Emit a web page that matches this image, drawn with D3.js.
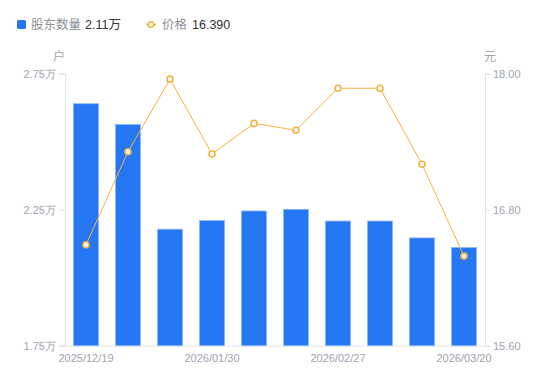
<!DOCTYPE html>
<html><head><meta charset="utf-8">
<script src="https://cdn.jsdelivr.net/npm/d3@7/dist/d3.min.js"></script>
<style>
html,body{margin:0;padding:0;background:#fff;}
svg{display:block;font-family:"Liberation Sans","Noto Sans CJK SC",sans-serif;}
</style></head>
<body>
<svg id="chart" width="550" height="381"></svg>
<script>
const dates = ["2025/12/19","2025/12/31","2026/01/16","2026/01/30","2026/02/10","2026/02/13","2026/02/27","2026/03/10","2026/03/13","2026/03/20"];
const holders = [2.639, 2.563, 2.178, 2.210, 2.245, 2.251, 2.208, 2.208, 2.146, 2.111]; // 万户
const prices = [16.49, 17.31, 17.95, 17.29, 17.56, 17.50, 17.87, 17.87, 17.20, 16.39];
const leftTicks = [1.75, 2.25, 2.75];
const rightTicks = [15.60, 16.80, 18.00];
const shownDates = ["2025/12/19","2026/01/30","2026/02/27","2026/03/20"];

const svg = d3.select("#chart");
const L = 65, R = 485, T = 73.5, B = 345.7;
const axisColor = "#e3e4e8", textColor = "#a0a3b1";

const x = d3.scaleBand().domain(dates).range([L, R]).paddingInner(0.4).paddingOuter(0.2);
const xc = d => x(d) + x.bandwidth()/2;
const yL = d3.scaleLinear().domain([1.75, 2.75]).range([B, T]);
const yR = d3.scaleLinear().domain([15.6, 18.0]).range([B, T]);

// axes
const leftAxis = svg.append("g").attr("transform", `translate(${L},0)`)
  .call(d3.axisLeft(yL).tickValues(leftTicks).tickSize(6).tickPadding(3).tickFormat(d => d3.format(".2f")(d) + "万"));
const rightAxis = svg.append("g").attr("transform", `translate(${R},0)`)
  .call(d3.axisRight(yR).tickValues(rightTicks).tickSize(5).tickPadding(3).tickFormat(d3.format(".2f")));
const bottomAxis = svg.append("g").attr("transform", `translate(0,${B})`)
  .call(d3.axisBottom(x).tickValues(shownDates).tickSize(0).tickPadding(9));
bottomAxis.select(".domain").attr("d", `M${L-5},0.5H${R}`);
[leftAxis, rightAxis, bottomAxis].forEach(g => {
  g.select(".domain").attr("stroke", axisColor);
  g.selectAll(".tick line").attr("stroke", axisColor);
  g.selectAll(".tick text").attr("fill", textColor).attr("font-size", 11);
});

// unit labels
svg.append("text").attr("x", 59).attr("y", 61).attr("text-anchor", "middle")
  .attr("fill", textColor).attr("font-size", 12).text("户");
svg.append("text").attr("x", 490).attr("y", 61).attr("text-anchor", "middle")
  .attr("fill", textColor).attr("font-size", 12).text("元");

// bars
svg.append("g").selectAll("rect").data(dates).join("rect")
  .attr("x", d => x(d)).attr("width", x.bandwidth())
  .attr("y", (d,i) => yL(holders[i])).attr("height", (d,i) => B - yL(holders[i]))
  .attr("fill", "#2677f3").attr("stroke", "#8fb9f8").attr("stroke-width", 0.8);

// line
const line = d3.line().x((d,i) => xc(dates[i])).y(d => yR(d));
svg.append("path").datum(prices).attr("d", line)
  .attr("fill", "none").attr("stroke", "#f7b33f").attr("stroke-width", 1);
svg.append("g").selectAll("circle").data(prices).join("circle")
  .attr("cx", (d,i) => xc(dates[i])).attr("cy", d => yR(d)).attr("r", 3)
  .attr("fill", "#fff").attr("stroke", "#f7b33f").attr("stroke-width", 1.6);

// legend
const lg = svg.append("g").attr("font-size", 12.5);
lg.append("rect").attr("x", 17).attr("y", 20).attr("width", 9).attr("height", 9).attr("rx", 1.5).attr("fill", "#2677f3");
lg.append("text").attr("x", 31).attr("y", 29).attr("fill", "#8c8f9c").text("股东数量");
lg.append("text").attr("x", 85).attr("y", 29).attr("fill", "#333").text("2.11万");
lg.append("line").attr("x1", 146).attr("x2", 156).attr("y1", 24.5).attr("y2", 24.5).attr("stroke", "#f7b33f").attr("stroke-width", 1.5);
lg.append("circle").attr("cx", 151).attr("cy", 24.5).attr("r", 2.8).attr("fill", "#fff").attr("stroke", "#f7b33f").attr("stroke-width", 1.6);
lg.append("text").attr("x", 162).attr("y", 29).attr("fill", "#8c8f9c").text("价格");
lg.append("text").attr("x", 192).attr("y", 29).attr("fill", "#333").text("16.390");
</script>
</body></html>
